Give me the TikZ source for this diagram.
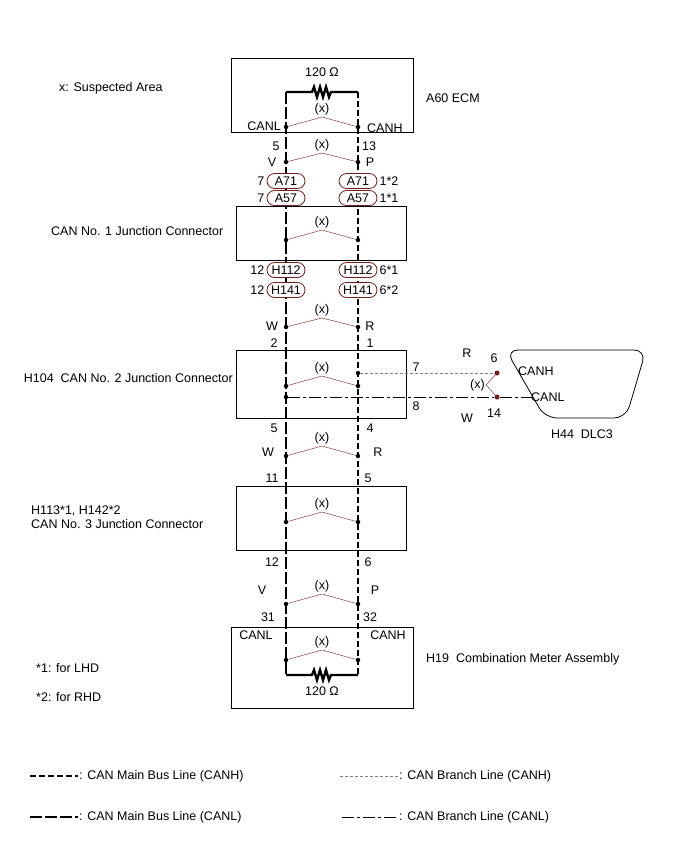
\documentclass[tikz,border=0pt]{standalone}
\usepackage{fontspec}
\setmainfont{Liberation Sans}
\usetikzlibrary{positioning}
\definecolor{wirered}{RGB}{110,30,30}
\tikzset{
	canh/.style={line width=2.6pt, dash pattern=on 6pt off 3pt},
	canl/.style={line width=2.6pt, dash pattern=on 12pt off 3pt},
	branchh/.style={gray, thin, dash pattern=on 3pt off 2pt},
	branchl/.style={thin, dash pattern=on 12pt off 3pt on 3pt off 3pt},
	box/.style={draw, thick},
	lbl/.style={font=\fontsize{12.5}{14}\selectfont, inner sep=1pt},
	plug/.style={draw=wirered, thick, rounded corners=7.5pt, minimum width=38pt, minimum height=15pt, inner sep=0pt, fill=white, font=\fontsize{12.5}{14}\selectfont},
	pin/.style={circle, fill=black, inner sep=0pt, minimum size=4.5pt},
	rpin/.style={circle, fill=wirered, inner sep=0pt, minimum size=5pt}
}
\newcommand{\suspect}[3] % {name}{y of peak}{y of pins}
{
	\node [pin] (#1L) at (286,#3) {};
	\node [pin] (#1R) at (358,#3) {};
	\coordinate (#1T) at (322,#2);
	\draw [wirered] (#1L) -- (#1T) -- (#1R);
	\node [lbl, above=1pt of #1T] {(x)};
}
\newcommand{\resistor}[2] % {name}{y}
{
	\coordinate (#1a) at (286,#2);
	\coordinate (#1b) at (358,#2);
	\draw [line width=2.4pt] (#1a) -- (312,#2) -- (314,#2-5) -- (317,#2+5) -- (320,#2-5) -- (323,#2+5) -- (326,#2-5) -- (329,#2+5) -- (331,#2) -- (#1b);
}
\begin{document}
\begin{tikzpicture}[x=1pt, y=-1pt]
	\useasboundingbox (0,0) rectangle (690,855);

	% main bus
	\resistor{ra}{92}
	\resistor{rb}{675}
	\draw [canl] (raa) -- (rba);
	\draw [canh] (rab) -- (rbb);

	% boxes
	\draw [box] (231,58) rectangle (413,132);
	\draw [box] (236,206) rectangle (406,260);
	\draw [box] (236,350) rectangle (406,418);
	\draw [box] (236,486) rectangle (406,550);
	\draw [box] (231,627) rectangle (413,708);

	\node [lbl] (ohmA) at (322,72) {120 Ω};
	\node [lbl] (ohmB) at (322,691) {120 Ω};
	\node [lbl, anchor=west] (ecm) at (425,98) {A60 ECM};
	\node [lbl, anchor=west] (legx) at (58,88) {x: Suspected Area};
	\node [lbl, anchor=west] (jc1) at (50,231) {CAN No. 1 Junction Connector};
	\node [lbl, anchor=east] (jc2) at (234,378) {H104\ \ CAN No. 2 Junction Connector};
	\node [lbl, anchor=west] (jc3a) at (30,511) {H113*1, H142*2};
	\node [lbl, anchor=west] (jc3b) at (30,524) {CAN No. 3 Junction Connector};
	\node [lbl, anchor=west] (meter) at (425,659) {H19\ \ Combination Meter Assembly};
	\node [lbl, anchor=west] (lhd) at (35,668) {*1: for LHD};
	\node [lbl, anchor=west] (rhd) at (35,697) {*2: for RHD};

	% suspected areas
	\suspect{s1}{117}{127}
	\suspect{s2}{153}{162}
	\suspect{s3}{230}{240}
	\suspect{s4}{318}{327}
	\suspect{s5}{376}{386}
	\suspect{s6}{446}{456}
	\suspect{s7}{512}{522}
	\suspect{s8}{594}{604}
	\suspect{s9}{650}{660}

	% wire labels
	\node [lbl, anchor=east] at (282,126) {CANL};
	\node [lbl, anchor=west] at (366,128) {CANH};
	\node [lbl] at (276,146) {5};
	\node [lbl] at (369,146) {13};
	\node [lbl] at (272,162) {V};
	\node [lbl] at (370,162) {P};
	\node [lbl] at (274,343) {2};
	\node [lbl] at (370,343) {1};
	\node [lbl] at (272,326) {W};
	\node [lbl] at (370,326) {R};
	\node [lbl] at (274,428) {5};
	\node [lbl] at (370,428) {4};
	\node [lbl] at (268,452) {W};
	\node [lbl] at (378,452) {R};
	\node [lbl] at (272,478) {11};
	\node [lbl] at (368,478) {5};
	\node [lbl] at (272,562) {12};
	\node [lbl] at (368,562) {6};
	\node [lbl] at (262,590) {V};
	\node [lbl] at (375,590) {P};
	\node [lbl] at (268,617) {31};
	\node [lbl] at (370,617) {32};
	\node [lbl] at (256,635) {CANL};
	\node [lbl] at (388,635) {CANH};

	% connectors
	\node [plug] (a71l) at (286,181) {A71};
	\node [plug] (a71r) at (358,181) {A71};
	\node [plug] (a57l) at (286,198) {A57};
	\node [plug] (a57r) at (358,198) {A57};
	\node [plug] (h112l) at (286,270) {H112};
	\node [plug] (h112r) at (358,270) {H112};
	\node [plug] (h141l) at (286,290) {H141};
	\node [plug] (h141r) at (358,290) {H141};
	\node [lbl, left=1pt of a71l] {7};
	\node [lbl, left=1pt of a57l] {7};
	\node [lbl, right=1pt of a71r] {1*2};
	\node [lbl, right=1pt of a57r] {1*1};
	\node [lbl, left=1pt of h112l] {12};
	\node [lbl, left=1pt of h141l] {12};
	\node [lbl, right=1pt of h112r] {6*1};
	\node [lbl, right=1pt of h141r] {6*2};

	% branch to DLC3
	\node [pin] (bh) at (358,373) {};
	\node [pin] (bl) at (286,397) {};
	\node [rpin] (d6) at (497,373) {};
	\node [rpin] (d14) at (497,397) {};
	\coordinate (dlcl) at (540,397);
	\draw [branchh] (bh) -- (d6);
	\draw [branchl] (bl) -- (d14) -- (dlcl);
	\coordinate (xv) at (486,385);
	\draw [wirered] (d6) -- (xv) -- (d14);
	\node [lbl, left=0pt of xv] {(x)};
	\node [lbl] at (416,367) {7};
	\node [lbl] at (416,406) {8};
	\node [lbl] at (467,353) {R};
	\node [lbl] at (494,358) {6};
	\node [lbl] at (467,418) {W};
	\node [lbl] at (494,413) {14};
	\draw [thick, rounded corners=12pt, fill=white] (506,350) -- (646,350) -- (626,418) -- (545,418) -- cycle;
	\node [lbl, anchor=west] at (517,371) {CANH};
	\node [lbl, anchor=west] at (530,397) {CANL};
	\node [lbl] (dlc) at (582,434) {H44\ \ DLC3};

	% legend
	\coordinate (k1a) at (30,776); \coordinate (k1b) at (78,776);
	\coordinate (k2a) at (30,817); \coordinate (k2b) at (78,817);
	\coordinate (k3a) at (340,776); \coordinate (k3b) at (398,776);
	\coordinate (k4a) at (342,817); \coordinate (k4b) at (398,817);
	\draw [canh] (k1a) -- (k1b);
	\draw [canl] (k2a) -- (k2b);
	\draw [branchh] (k3a) -- (k3b);
	\draw [branchl] (k4a) -- (k4b);
	\node [lbl, anchor=west] at (k1b) {: CAN Main Bus Line (CANH)};
	\node [lbl, anchor=west] at (k2b) {: CAN Main Bus Line (CANL)};
	\node [lbl, anchor=west] at (k3b) {: CAN Branch Line (CANH)};
	\node [lbl, anchor=west] at (k4b) {: CAN Branch Line (CANL)};
\end{tikzpicture}
\end{document}
